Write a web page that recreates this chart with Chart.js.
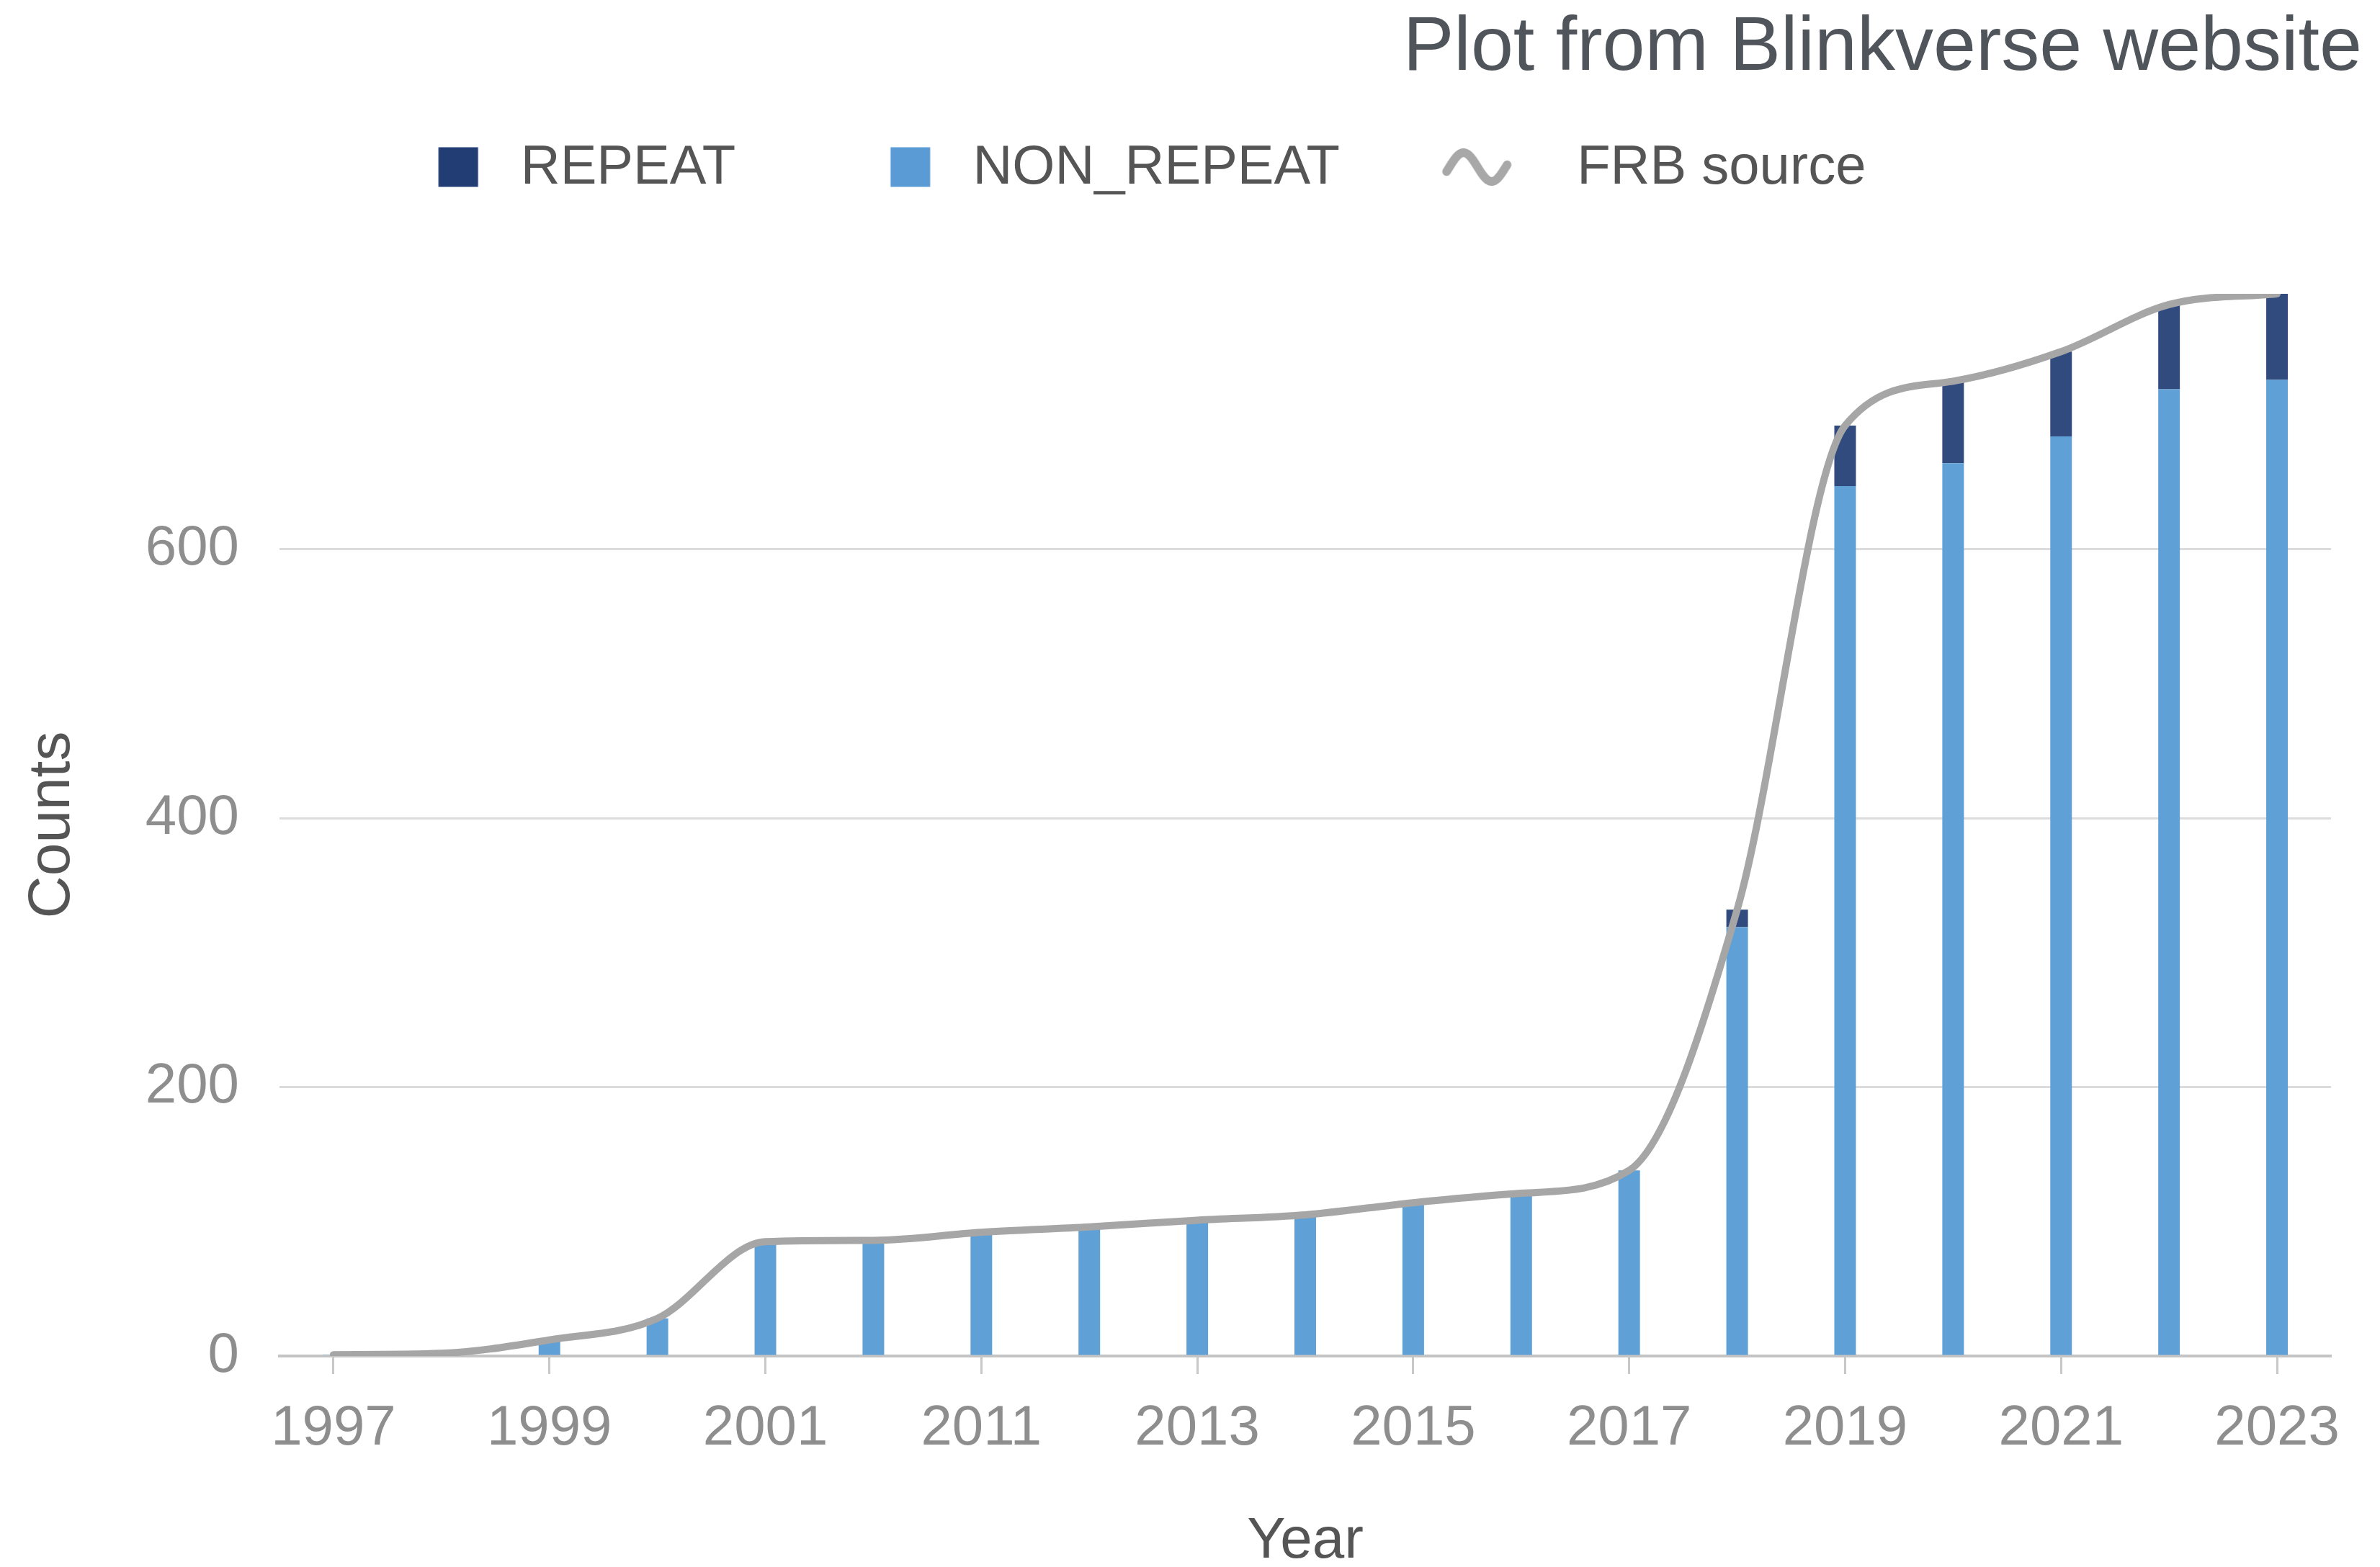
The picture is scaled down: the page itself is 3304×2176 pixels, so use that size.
<!DOCTYPE html>
<html>
<head>
<meta charset="utf-8">
<title>FRB source counts by year</title>
<script src="https://cdn.jsdelivr.net/npm/chart.js@4.4.1/dist/chart.umd.min.js"></script>
<style>
  html, body { margin: 0; padding: 0; background: #ffffff; }
  #wrap { position: relative; width: 3304px; height: 2176px; }
</style>
</head>
<body>
<div id="wrap"><canvas id="chart" width="3304" height="2176"></canvas></div>
<script>
// Cumulative FRB source counts per year
const years = ['1997', '1998', '1999', '2000', '2001', '2009', '2011', '2012', '2013', '2014',
               '2015', '2016', '2017', '2018', '2019', '2020', '2021', '2022', '2023'];
const nonRepeat = [1, 2, 12, 28, 85, 86, 92, 96, 101, 105, 114, 121, 138, 319, 647, 664, 684, 719, 726];
const repeat    = [0, 0, 0, 0, 0, 0, 0, 0, 0, 0, 0, 0, 0, 13, 45, 61, 63, 63, 64];
const yTickValues = [0, 200, 400, 600];

const totals = years.map((_, i) => nonRepeat[i] + repeat[i]);

const FONT = 'Liberation Sans';
Chart.defaults.font.family = FONT;

// Legend icons drawn on small canvases (drawn centred on the legend box)
function squareIcon(color) {
  const c = document.createElement('canvas');
  c.width = 120; c.height = 84;
  const g = c.getContext('2d');
  g.fillStyle = color;
  g.fillRect(31 - 27.5, 40 - 27.5, 55, 55);
  return c;
}
function waveIcon(color) {
  const c = document.createElement('canvas');
  c.width = 300; c.height = 84;
  const g = c.getContext('2d');
  const cx = 68.6, cy = 40, half = 42, amp = 20;
  const a0 = -0.1 * Math.PI, a1 = 2.05 * Math.PI;
  g.strokeStyle = color;
  g.lineWidth = 12;
  g.lineCap = 'round';
  g.lineJoin = 'round';
  g.beginPath();
  for (let k = 0; k <= 60; k++) {
    const t = k / 60;
    const x = cx - half + 2 * half * t;
    const y = cy - amp * Math.sin(a0 + (a1 - a0) * t);
    if (k === 0) g.moveTo(x, y); else g.lineTo(x, y);
  }
  g.stroke();
  return c;
}
const legendIcons = {
  0: squareIcon('#5b9bd5'),
  1: squareIcon('#213d74'),
  2: waveIcon('#a8a8a8')
};

// Source note in the top-right corner
const sourceNote = {
  id: 'sourceNote',
  afterDraw(chart) {
    const ctx = chart.ctx;
    ctx.save();
    ctx.font = '106px "' + FONT + '"';
    ctx.fillStyle = '#50555c';
    ctx.textAlign = 'right';
    ctx.textBaseline = 'alphabetic';
    ctx.fillText('Plot from Blinkverse website', chart.width - 25, 97);
    ctx.restore();
  }
};

new Chart(document.getElementById('chart'), {
  type: 'bar',
  data: {
    labels: years,
    datasets: [
      {
        label: 'NON_REPEAT',
        data: nonRepeat,
        backgroundColor: '#5fa0d6',
        borderWidth: 0,
        barPercentage: 0.2,
        categoryPercentage: 1.0,
        stack: 'frb'
      },
      {
        label: 'REPEAT',
        data: repeat,
        backgroundColor: '#314b7e',
        borderWidth: 0,
        barPercentage: 0.2,
        categoryPercentage: 1.0,
        stack: 'frb'
      },
      {
        type: 'line',
        label: 'FRB source',
        data: totals,
        borderColor: '#a6a6a6',
        backgroundColor: '#a6a6a6',
        borderWidth: 10,
        borderCapStyle: 'round',
        borderJoinStyle: 'round',
        cubicInterpolationMode: 'monotone',
        pointRadius: 0,
        pointHoverRadius: 0,
        fill: false,
        stack: 'source',
        order: -1
      }
    ]
  },
  options: {
    responsive: false,
    animation: false,
    devicePixelRatio: 1,
    layout: { padding: { top: -56, right: 68, bottom: 0, left: 0 } },
    plugins: {
      tooltip: { enabled: false },
      title: { display: false },
      subtitle: {
        display: true,
        text: '',
        weight: 500,
        font: { size: 1, lineHeight: 1 },
        padding: { top: 0, bottom: 125 }
      },
      legend: {
        display: true,
        position: 'top',
        labels: {
          usePointStyle: true,
          pointStyleWidth: 39.2,
          padding: 252,
          color: '#555555',
          font: { size: 76, family: FONT },
          generateLabels(chart) {
            const items = Chart.defaults.plugins.legend.labels.generateLabels(chart);
            const byIndex = {};
            items.forEach(it => { byIndex[it.datasetIndex] = it; });
            return [1, 0, 2].map(i => Object.assign(byIndex[i], { pointStyle: legendIcons[i] }));
          }
        }
      }
    },
    scales: {
      x: {
        stacked: true,
        offset: true,
        grid: {
          display: true,
          offset: false,
          drawOnChartArea: false,
          drawTicks: true,
          tickLength: 25,
          tickWidth: 3,
          tickColor: ctx => (ctx.index % 2 === 0 ? '#c8c8c8' : 'rgba(0,0,0,0)')
        },
        border: { display: true, color: '#c4c4c4', width: 4 },
        ticks: {
          autoSkip: false,
          maxRotation: 0,
          minRotation: 0,
          padding: 30,
          color: '#8e8e8e',
          font: { size: 78 },
          callback(value, index) {
            return index % 2 === 0 ? this.getLabelForValue(value) : '';
          }
        },
        title: {
          display: true,
          text: 'Year',
          color: '#555555',
          font: { size: 80, lineHeight: 0.875 },
          padding: { top: 0, bottom: 0 }
        },
        afterFit(scale) {
          scale.height = 293;
          scale.paddingLeft = 0;
          scale.paddingRight = 0;
        }
      },
      y: {
        stacked: true,
        min: 0,
        max: Math.max(...totals),
        afterBuildTicks(scale) {
          scale.ticks = yTickValues.map(v => ({ value: v }));
        },
        grid: {
          display: true,
          drawTicks: false,
          lineWidth: 3,
          color: ctx => (ctx.tick && ctx.tick.value === 0 ? 'rgba(0,0,0,0)' : '#dcdcdc')
        },
        border: { display: false },
        ticks: {
          padding: 56,
          color: '#8e8e8e',
          font: { size: 78 }
        },
        title: {
          display: true,
          text: 'Counts',
          color: '#555555',
          font: { size: 82, lineHeight: 1.2 },
          padding: { top: 24, bottom: 0 }
        },
        afterFit(scale) {
          scale.width = 388;
          scale.paddingTop = 0;
          scale.paddingBottom = 0;
        }
      }
    }
  },
  plugins: [sourceNote]
});
</script>
</body>
</html>
